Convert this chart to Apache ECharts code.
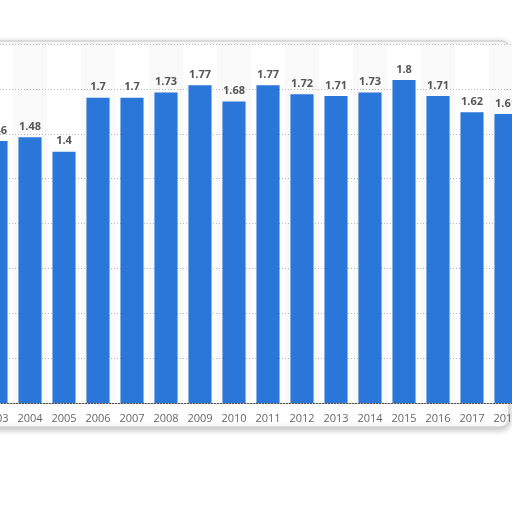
<!DOCTYPE html>
<html>
<head>
<meta charset="utf-8">
<script src="https://cdn.jsdelivr.net/npm/echarts@6/dist/echarts.min.js"></script>
<style>
html, body { margin: 0; padding: 0; background: #fff; overflow: hidden; }
#main { position: absolute; left: -21px; top: 0; width: 544px; height: 512px; }
</style>
</head>
<body>
<div id="main"></div>
<script>
var years = ['2003', '2004', '2005', '2006', '2007', '2008', '2009', '2010',
	'2011', '2012', '2013', '2014', '2015', '2016', '2017', '2018'];
var values = [1.46, 1.48, 1.4, 1.7, 1.7, 1.73, 1.77, 1.68,
	1.77, 1.72, 1.71, 1.73, 1.8, 1.71, 1.62, 1.61];

// chart div is shifted 21px left so 2003 and 2018 bars are cut like the source
var chart = echarts.init(document.getElementById('main'));
var option = {
	backgroundColor : '#fff',
	animation : false,
	graphic : [ {
		type : 'rect',
		z : -10,
		shape : { x : 5, y : 41, width : 525, height : 386, r : 8 },
		style : {
			fill : '#fff',
			stroke : '#d4d4d4',
			lineWidth : 1.5,
			shadowBlur : 6,
			shadowColor : 'rgba(0,0,0,0.25)',
			shadowOffsetY : 2
		}
	} ],
	grid : {
		left : 0,
		right : 0,
		top : 44,
		bottom : 109
	},
	xAxis : {
		type : 'category',
		data : years,
		z : 0,
		axisLine : { lineStyle : { color : '#555', width : 1 } },
		axisTick : { show : false },
		axisLabel : {
			interval : 0,
			color : '#666',
			fontSize : 11,
			fontFamily : 'Open Sans',
			margin : 10
		},
		splitArea : {
			show : true,
			interval : 0,
			areaStyle : { color : [ '#ffffff', '#f9f9f9' ] }
		}
	},
	yAxis : {
		type : 'value',
		z : 1,
		min : 0,
		max : 2,
		interval : 0.25,
		axisLine : { show : false },
		axisTick : { show : false },
		axisLabel : { show : false },
		splitLine : { lineStyle : { color : '#b8b8b8', type : [ 1, 2 ] } }
	},
	series : [ {
		type : 'bar',
		data : values,
		barCategoryGap : '32%',
		itemStyle : { color : '#2a76d9' },
		label : {
			show : true,
			position : 'top',
			distance : 5,
			color : '#555',
			fontSize : 11,
			fontWeight : 'bold',
			fontFamily : 'Open Sans'
		}
	} ]
};
chart.setOption(option);
</script>
</body>
</html>
